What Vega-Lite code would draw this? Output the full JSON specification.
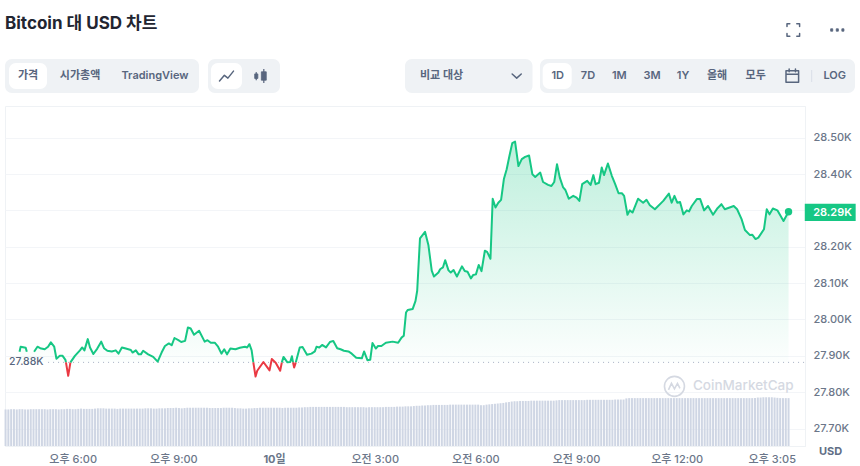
{
  "$schema": "https://vega.github.io/schema/vega-lite/v6.json",
  "background": "#ffffff",
  "padding": {"left": 4, "right": 0, "top": 0, "bottom": 0},
  "spacing": 5,
  "resolve": {"scale": {"color": "independent", "shape": "independent"}},
  "config": {
    "view": {"stroke": null},
    "font": "Inter, 'Noto Sans CJK KR', sans-serif"
  },
  "datasets": {
    "trays": [
      {"kind": "tray", "col": 0, "col2": 6, "row": 2, "row2": 8},
      {"kind": "pill", "col": 1, "col2": 3, "row": 3, "row2": 7},
      {"kind": "tray", "col": 7, "col2": 12, "row": 2, "row2": 8},
      {"kind": "pill", "col": 8, "col2": 10, "row": 3, "row2": 7},
      {"kind": "tray", "col": 13, "col2": 16, "row": 2, "row2": 8},
      {"kind": "tray", "col": 17, "col2": 32, "row": 2, "row2": 8},
      {"kind": "pill", "col": 18, "col2": 20, "row": 3, "row2": 7}
    ],
    "buttons": [
      {"label": "가격", "col": 2, "row": 5},
      {"label": "시가총액", "col": 4, "row": 5},
      {"label": "TradingView", "col": 5, "row": 5},
      {"label": "비교 대상", "col": 14, "row": 5},
      {"label": "1D", "col": 19, "row": 5},
      {"label": "7D", "col": 21, "row": 5},
      {"label": "1M", "col": 22, "row": 5},
      {"label": "3M", "col": 23, "row": 5},
      {"label": "1Y", "col": 24, "row": 5},
      {"label": "올해", "col": 25, "row": 5},
      {"label": "모두", "col": 26, "row": 5},
      {"label": "LOG", "col": 30, "row": 5}
    ],
    "icons": [
      {"icon": "line", "col": 9, "row": 5, "solid": false},
      {"icon": "candle", "col": 11, "row": 5, "solid": true},
      {"icon": "chevron", "col": 15, "row": 5, "solid": false},
      {"icon": "calendar", "col": 27, "row": 5, "solid": false},
      {"icon": "fullscreen", "col": 28, "row": 1, "solid": false},
      {"icon": "more", "col": 31, "row": 1, "solid": true}
    ],
    "volume": [
      {"t":"2023-04-09T16:00Z","vol":12.9},{"t":"2023-04-09T16:05Z","vol":12.9},{"t":"2023-04-09T16:10Z","vol":13.0},{"t":"2023-04-09T16:15Z","vol":13.0},{"t":"2023-04-09T16:20Z","vol":12.9},{"t":"2023-04-09T16:25Z","vol":13.0},{"t":"2023-04-09T16:30Z","vol":13.0},{"t":"2023-04-09T16:35Z","vol":12.9},{"t":"2023-04-09T16:40Z","vol":12.9},{"t":"2023-04-09T16:45Z","vol":13.0},{"t":"2023-04-09T16:50Z","vol":13.0},{"t":"2023-04-09T16:55Z","vol":13.0},
      {"t":"2023-04-09T17:00Z","vol":13.0},{"t":"2023-04-09T17:05Z","vol":13.0},{"t":"2023-04-09T17:10Z","vol":13.0},{"t":"2023-04-09T17:15Z","vol":12.9},{"t":"2023-04-09T17:20Z","vol":13.0},{"t":"2023-04-09T17:25Z","vol":13.0},{"t":"2023-04-09T17:30Z","vol":13.0},{"t":"2023-04-09T17:35Z","vol":12.9},{"t":"2023-04-09T17:40Z","vol":13.0},{"t":"2023-04-09T17:45Z","vol":13.0},{"t":"2023-04-09T17:50Z","vol":13.1},{"t":"2023-04-09T17:55Z","vol":13.1},
      {"t":"2023-04-09T18:00Z","vol":13.0},{"t":"2023-04-09T18:05Z","vol":13.0},{"t":"2023-04-09T18:10Z","vol":13.1},{"t":"2023-04-09T18:15Z","vol":13.2},{"t":"2023-04-09T18:20Z","vol":13.1},{"t":"2023-04-09T18:25Z","vol":13.1},{"t":"2023-04-09T18:30Z","vol":13.1},{"t":"2023-04-09T18:35Z","vol":13.1},{"t":"2023-04-09T18:40Z","vol":13.2},{"t":"2023-04-09T18:45Z","vol":13.3},{"t":"2023-04-09T18:50Z","vol":13.3},{"t":"2023-04-09T18:55Z","vol":13.3},
      {"t":"2023-04-09T19:00Z","vol":13.2},{"t":"2023-04-09T19:05Z","vol":13.2},{"t":"2023-04-09T19:10Z","vol":13.2},{"t":"2023-04-09T19:15Z","vol":13.2},{"t":"2023-04-09T19:20Z","vol":13.1},{"t":"2023-04-09T19:25Z","vol":13.2},{"t":"2023-04-09T19:30Z","vol":13.2},{"t":"2023-04-09T19:35Z","vol":13.2},{"t":"2023-04-09T19:40Z","vol":13.2},{"t":"2023-04-09T19:45Z","vol":13.2},{"t":"2023-04-09T19:50Z","vol":13.2},{"t":"2023-04-09T19:55Z","vol":13.2},
      {"t":"2023-04-09T20:00Z","vol":13.2},{"t":"2023-04-09T20:05Z","vol":13.2},{"t":"2023-04-09T20:10Z","vol":13.3},{"t":"2023-04-09T20:15Z","vol":13.3},{"t":"2023-04-09T20:20Z","vol":13.3},{"t":"2023-04-09T20:25Z","vol":13.2},{"t":"2023-04-09T20:30Z","vol":13.2},{"t":"2023-04-09T20:35Z","vol":13.3},{"t":"2023-04-09T20:40Z","vol":13.3},{"t":"2023-04-09T20:45Z","vol":13.3},{"t":"2023-04-09T20:50Z","vol":13.4},{"t":"2023-04-09T20:55Z","vol":13.4},
      {"t":"2023-04-09T21:00Z","vol":13.4},{"t":"2023-04-09T21:05Z","vol":13.5},{"t":"2023-04-09T21:10Z","vol":13.4},{"t":"2023-04-09T21:15Z","vol":13.3},{"t":"2023-04-09T21:20Z","vol":13.4},{"t":"2023-04-09T21:25Z","vol":13.5},{"t":"2023-04-09T21:30Z","vol":13.5},{"t":"2023-04-09T21:35Z","vol":13.5},{"t":"2023-04-09T21:40Z","vol":13.5},{"t":"2023-04-09T21:45Z","vol":13.5},{"t":"2023-04-09T21:50Z","vol":13.5},{"t":"2023-04-09T21:55Z","vol":13.5},
      {"t":"2023-04-09T22:00Z","vol":13.5},{"t":"2023-04-09T22:05Z","vol":13.4},{"t":"2023-04-09T22:10Z","vol":13.4},{"t":"2023-04-09T22:15Z","vol":13.4},{"t":"2023-04-09T22:20Z","vol":13.4},{"t":"2023-04-09T22:25Z","vol":13.4},{"t":"2023-04-09T22:30Z","vol":13.5},{"t":"2023-04-09T22:35Z","vol":13.5},{"t":"2023-04-09T22:40Z","vol":13.5},{"t":"2023-04-09T22:45Z","vol":13.5},{"t":"2023-04-09T22:50Z","vol":13.4},{"t":"2023-04-09T22:55Z","vol":13.3},
      {"t":"2023-04-09T23:00Z","vol":13.3},{"t":"2023-04-09T23:05Z","vol":13.2},{"t":"2023-04-09T23:10Z","vol":13.2},{"t":"2023-04-09T23:15Z","vol":13.3},{"t":"2023-04-09T23:20Z","vol":13.3},{"t":"2023-04-09T23:25Z","vol":13.4},{"t":"2023-04-09T23:30Z","vol":13.4},{"t":"2023-04-09T23:35Z","vol":13.5},{"t":"2023-04-09T23:40Z","vol":13.5},{"t":"2023-04-09T23:45Z","vol":13.5},{"t":"2023-04-09T23:50Z","vol":13.5},{"t":"2023-04-09T23:55Z","vol":13.5},
      {"t":"2023-04-10T00:00Z","vol":13.5},{"t":"2023-04-10T00:05Z","vol":13.5},{"t":"2023-04-10T00:10Z","vol":13.5},{"t":"2023-04-10T00:15Z","vol":13.4},{"t":"2023-04-10T00:20Z","vol":13.5},{"t":"2023-04-10T00:25Z","vol":13.5},{"t":"2023-04-10T00:30Z","vol":13.5},{"t":"2023-04-10T00:35Z","vol":13.5},{"t":"2023-04-10T00:40Z","vol":13.5},{"t":"2023-04-10T00:45Z","vol":13.6},{"t":"2023-04-10T00:50Z","vol":13.6},{"t":"2023-04-10T00:55Z","vol":13.7},
      {"t":"2023-04-10T01:00Z","vol":13.7},{"t":"2023-04-10T01:05Z","vol":13.8},{"t":"2023-04-10T01:10Z","vol":13.8},{"t":"2023-04-10T01:15Z","vol":13.8},{"t":"2023-04-10T01:20Z","vol":13.8},{"t":"2023-04-10T01:25Z","vol":13.8},{"t":"2023-04-10T01:30Z","vol":13.8},{"t":"2023-04-10T01:35Z","vol":13.8},{"t":"2023-04-10T01:40Z","vol":13.8},{"t":"2023-04-10T01:45Z","vol":13.8},{"t":"2023-04-10T01:50Z","vol":13.8},{"t":"2023-04-10T01:55Z","vol":13.8},
      {"t":"2023-04-10T02:00Z","vol":13.8},{"t":"2023-04-10T02:05Z","vol":13.8},{"t":"2023-04-10T02:10Z","vol":13.7},{"t":"2023-04-10T02:15Z","vol":13.7},{"t":"2023-04-10T02:20Z","vol":13.7},{"t":"2023-04-10T02:25Z","vol":13.7},{"t":"2023-04-10T02:30Z","vol":13.7},{"t":"2023-04-10T02:35Z","vol":13.7},{"t":"2023-04-10T02:40Z","vol":13.7},{"t":"2023-04-10T02:45Z","vol":13.6},{"t":"2023-04-10T02:50Z","vol":13.7},{"t":"2023-04-10T02:55Z","vol":13.7},
      {"t":"2023-04-10T03:00Z","vol":13.7},{"t":"2023-04-10T03:05Z","vol":13.7},{"t":"2023-04-10T03:10Z","vol":13.7},{"t":"2023-04-10T03:15Z","vol":13.7},{"t":"2023-04-10T03:20Z","vol":13.8},{"t":"2023-04-10T03:25Z","vol":13.8},{"t":"2023-04-10T03:30Z","vol":13.8},{"t":"2023-04-10T03:35Z","vol":13.8},{"t":"2023-04-10T03:40Z","vol":13.9},{"t":"2023-04-10T03:45Z","vol":13.9},{"t":"2023-04-10T03:50Z","vol":13.9},{"t":"2023-04-10T03:55Z","vol":14.0},
      {"t":"2023-04-10T04:00Z","vol":14.0},{"t":"2023-04-10T04:05Z","vol":14.0},{"t":"2023-04-10T04:10Z","vol":14.1},{"t":"2023-04-10T04:15Z","vol":14.2},{"t":"2023-04-10T04:20Z","vol":14.2},{"t":"2023-04-10T04:25Z","vol":14.3},{"t":"2023-04-10T04:30Z","vol":14.3},{"t":"2023-04-10T04:35Z","vol":14.4},{"t":"2023-04-10T04:40Z","vol":14.4},{"t":"2023-04-10T04:45Z","vol":14.5},{"t":"2023-04-10T04:50Z","vol":14.5},{"t":"2023-04-10T04:55Z","vol":14.5},
      {"t":"2023-04-10T05:00Z","vol":14.5},{"t":"2023-04-10T05:05Z","vol":14.5},{"t":"2023-04-10T05:10Z","vol":14.5},{"t":"2023-04-10T05:15Z","vol":14.6},{"t":"2023-04-10T05:20Z","vol":14.6},{"t":"2023-04-10T05:25Z","vol":14.6},{"t":"2023-04-10T05:30Z","vol":14.6},{"t":"2023-04-10T05:35Z","vol":14.6},{"t":"2023-04-10T05:40Z","vol":14.6},{"t":"2023-04-10T05:45Z","vol":14.6},{"t":"2023-04-10T05:50Z","vol":14.6},{"t":"2023-04-10T05:55Z","vol":14.6},
      {"t":"2023-04-10T06:00Z","vol":14.6},{"t":"2023-04-10T06:05Z","vol":14.6},{"t":"2023-04-10T06:10Z","vol":14.4},{"t":"2023-04-10T06:15Z","vol":14.4},{"t":"2023-04-10T06:20Z","vol":14.6},{"t":"2023-04-10T06:25Z","vol":14.7},{"t":"2023-04-10T06:30Z","vol":14.8},{"t":"2023-04-10T06:35Z","vol":14.9},{"t":"2023-04-10T06:40Z","vol":15.0},{"t":"2023-04-10T06:45Z","vol":15.1},{"t":"2023-04-10T06:50Z","vol":15.2},{"t":"2023-04-10T06:55Z","vol":15.4},
      {"t":"2023-04-10T07:00Z","vol":15.5},{"t":"2023-04-10T07:05Z","vol":15.7},{"t":"2023-04-10T07:10Z","vol":15.8},{"t":"2023-04-10T07:15Z","vol":15.8},{"t":"2023-04-10T07:20Z","vol":15.9},{"t":"2023-04-10T07:25Z","vol":15.9},{"t":"2023-04-10T07:30Z","vol":15.9},{"t":"2023-04-10T07:35Z","vol":15.9},{"t":"2023-04-10T07:40Z","vol":16.0},{"t":"2023-04-10T07:45Z","vol":16.0},{"t":"2023-04-10T07:50Z","vol":16.0},{"t":"2023-04-10T07:55Z","vol":16.0},
      {"t":"2023-04-10T08:00Z","vol":16.0},{"t":"2023-04-10T08:05Z","vol":16.0},{"t":"2023-04-10T08:10Z","vol":16.0},{"t":"2023-04-10T08:15Z","vol":16.0},{"t":"2023-04-10T08:20Z","vol":16.0},{"t":"2023-04-10T08:25Z","vol":16.1},{"t":"2023-04-10T08:30Z","vol":16.2},{"t":"2023-04-10T08:35Z","vol":16.2},{"t":"2023-04-10T08:40Z","vol":16.2},{"t":"2023-04-10T08:45Z","vol":16.2},{"t":"2023-04-10T08:50Z","vol":16.2},{"t":"2023-04-10T08:55Z","vol":16.2},
      {"t":"2023-04-10T09:00Z","vol":16.2},{"t":"2023-04-10T09:05Z","vol":16.2},{"t":"2023-04-10T09:10Z","vol":16.2},{"t":"2023-04-10T09:15Z","vol":16.2},{"t":"2023-04-10T09:20Z","vol":16.3},{"t":"2023-04-10T09:25Z","vol":16.3},{"t":"2023-04-10T09:30Z","vol":16.3},{"t":"2023-04-10T09:35Z","vol":16.3},{"t":"2023-04-10T09:40Z","vol":16.3},{"t":"2023-04-10T09:45Z","vol":16.3},{"t":"2023-04-10T09:50Z","vol":16.3},{"t":"2023-04-10T09:55Z","vol":16.3},
      {"t":"2023-04-10T10:00Z","vol":16.3},{"t":"2023-04-10T10:05Z","vol":16.3},{"t":"2023-04-10T10:10Z","vol":16.4},{"t":"2023-04-10T10:15Z","vol":16.4},{"t":"2023-04-10T10:20Z","vol":16.4},{"t":"2023-04-10T10:25Z","vol":16.4},{"t":"2023-04-10T10:30Z","vol":16.8},{"t":"2023-04-10T10:35Z","vol":16.9},{"t":"2023-04-10T10:40Z","vol":16.9},{"t":"2023-04-10T10:45Z","vol":16.9},{"t":"2023-04-10T10:50Z","vol":16.9},{"t":"2023-04-10T10:55Z","vol":16.9},
      {"t":"2023-04-10T11:00Z","vol":16.9},{"t":"2023-04-10T11:05Z","vol":16.9},{"t":"2023-04-10T11:10Z","vol":16.9},{"t":"2023-04-10T11:15Z","vol":16.9},{"t":"2023-04-10T11:20Z","vol":16.9},{"t":"2023-04-10T11:25Z","vol":16.9},{"t":"2023-04-10T11:30Z","vol":16.9},{"t":"2023-04-10T11:35Z","vol":16.9},{"t":"2023-04-10T11:40Z","vol":16.9},{"t":"2023-04-10T11:45Z","vol":16.9},{"t":"2023-04-10T11:50Z","vol":16.9},{"t":"2023-04-10T11:55Z","vol":16.9},
      {"t":"2023-04-10T12:00Z","vol":16.9},{"t":"2023-04-10T12:05Z","vol":16.9},{"t":"2023-04-10T12:10Z","vol":16.9},{"t":"2023-04-10T12:15Z","vol":16.9},{"t":"2023-04-10T12:20Z","vol":16.9},{"t":"2023-04-10T12:25Z","vol":16.9},{"t":"2023-04-10T12:30Z","vol":16.9},{"t":"2023-04-10T12:35Z","vol":16.9},{"t":"2023-04-10T12:40Z","vol":16.9},{"t":"2023-04-10T12:45Z","vol":16.9},{"t":"2023-04-10T12:50Z","vol":16.9},{"t":"2023-04-10T12:55Z","vol":16.9},
      {"t":"2023-04-10T13:00Z","vol":16.9},{"t":"2023-04-10T13:05Z","vol":16.9},{"t":"2023-04-10T13:10Z","vol":16.9},{"t":"2023-04-10T13:15Z","vol":16.9},{"t":"2023-04-10T13:20Z","vol":16.9},{"t":"2023-04-10T13:25Z","vol":16.9},{"t":"2023-04-10T13:30Z","vol":16.9},{"t":"2023-04-10T13:35Z","vol":16.9},{"t":"2023-04-10T13:40Z","vol":16.9},{"t":"2023-04-10T13:45Z","vol":16.9},{"t":"2023-04-10T13:50Z","vol":16.9},{"t":"2023-04-10T13:55Z","vol":16.9},
      {"t":"2023-04-10T14:00Z","vol":16.9},{"t":"2023-04-10T14:05Z","vol":16.9},{"t":"2023-04-10T14:10Z","vol":16.9},{"t":"2023-04-10T14:15Z","vol":16.9},{"t":"2023-04-10T14:20Z","vol":16.9},{"t":"2023-04-10T14:25Z","vol":17.1},{"t":"2023-04-10T14:30Z","vol":17.1},{"t":"2023-04-10T14:35Z","vol":17.2},{"t":"2023-04-10T14:40Z","vol":17.2},{"t":"2023-04-10T14:45Z","vol":17.2},{"t":"2023-04-10T14:50Z","vol":17.2},{"t":"2023-04-10T14:55Z","vol":17.1},
      {"t":"2023-04-10T15:00Z","vol":17.0},{"t":"2023-04-10T15:05Z","vol":16.9},{"t":"2023-04-10T15:10Z","vol":16.9},{"t":"2023-04-10T15:15Z","vol":16.9},{"t":"2023-04-10T15:20Z","vol":16.9}
    ],
    "price": [
      {"t":"2023-04-09T16:25Z","price":27911,"seg":1,"dir":"up"},{"t":"2023-04-09T16:27Z","price":27925,"seg":1,"dir":"up"},{"t":"2023-04-09T16:36Z","price":27922,"seg":1,"dir":"up"},{"t":"2023-04-09T16:38Z","price":27911,"seg":1,"dir":"up"},
      {"t":"2023-04-09T16:51Z","price":27911,"seg":2,"dir":"up"},{"t":"2023-04-09T16:57Z","price":27925,"seg":2,"dir":"up"},{"t":"2023-04-09T17:02Z","price":27921,"seg":2,"dir":"up"},{"t":"2023-04-09T17:10Z","price":27918,"seg":2,"dir":"up"},{"t":"2023-04-09T17:16Z","price":27925,"seg":2,"dir":"up"},{"t":"2023-04-09T17:21Z","price":27937,"seg":2,"dir":"up"},{"t":"2023-04-09T17:27Z","price":27925,"seg":2,"dir":"up"},{"t":"2023-04-09T17:31Z","price":27892,"seg":2,"dir":"up"},{"t":"2023-04-09T17:37Z","price":27900,"seg":2,"dir":"up"},{"t":"2023-04-09T17:42Z","price":27900,"seg":2,"dir":"up"},{"t":"2023-04-09T17:47Z","price":27889,"seg":2,"dir":"up"},{"t":"2023-04-09T17:48Z","price":27882,"seg":2,"dir":"up"},
      {"t":"2023-04-09T17:48Z","price":27882,"seg":3,"dir":"down"},{"t":"2023-04-09T17:52Z","price":27845,"seg":3,"dir":"down"},{"t":"2023-04-09T17:56Z","price":27882,"seg":3,"dir":"down"},
      {"t":"2023-04-09T17:56Z","price":27882,"seg":4,"dir":"up"},{"t":"2023-04-09T18:04Z","price":27900,"seg":4,"dir":"up"},{"t":"2023-04-09T18:13Z","price":27915,"seg":4,"dir":"up"},{"t":"2023-04-09T18:17Z","price":27923,"seg":4,"dir":"up"},{"t":"2023-04-09T18:21Z","price":27915,"seg":4,"dir":"up"},{"t":"2023-04-09T18:27Z","price":27946,"seg":4,"dir":"up"},{"t":"2023-04-09T18:31Z","price":27923,"seg":4,"dir":"up"},{"t":"2023-04-09T18:37Z","price":27905,"seg":4,"dir":"up"},{"t":"2023-04-09T18:44Z","price":27920,"seg":4,"dir":"up"},{"t":"2023-04-09T18:51Z","price":27939,"seg":4,"dir":"up"},{"t":"2023-04-09T18:56Z","price":27921,"seg":4,"dir":"up"},{"t":"2023-04-09T19:02Z","price":27914,"seg":4,"dir":"up"},{"t":"2023-04-09T19:10Z","price":27912,"seg":4,"dir":"up"},{"t":"2023-04-09T19:17Z","price":27915,"seg":4,"dir":"up"},{"t":"2023-04-09T19:22Z","price":27906,"seg":4,"dir":"up"},{"t":"2023-04-09T19:28Z","price":27923,"seg":4,"dir":"up"},{"t":"2023-04-09T19:35Z","price":27920,"seg":4,"dir":"up"},{"t":"2023-04-09T19:44Z","price":27916,"seg":4,"dir":"up"},{"t":"2023-04-09T19:47Z","price":27909,"seg":4,"dir":"up"},{"t":"2023-04-09T19:53Z","price":27915,"seg":4,"dir":"up"},{"t":"2023-04-09T19:58Z","price":27904,"seg":4,"dir":"up"},{"t":"2023-04-09T20:02Z","price":27904,"seg":4,"dir":"up"},{"t":"2023-04-09T20:06Z","price":27914,"seg":4,"dir":"up"},{"t":"2023-04-09T20:15Z","price":27904,"seg":4,"dir":"up"},{"t":"2023-04-09T20:24Z","price":27897,"seg":4,"dir":"up"},{"t":"2023-04-09T20:32Z","price":27884,"seg":4,"dir":"up"},{"t":"2023-04-09T20:39Z","price":27909,"seg":4,"dir":"up"},{"t":"2023-04-09T20:45Z","price":27927,"seg":4,"dir":"up"},{"t":"2023-04-09T20:52Z","price":27934,"seg":4,"dir":"up"},{"t":"2023-04-09T20:57Z","price":27929,"seg":4,"dir":"up"},{"t":"2023-04-09T21:02Z","price":27949,"seg":4,"dir":"up"},{"t":"2023-04-09T21:09Z","price":27943,"seg":4,"dir":"up"},{"t":"2023-04-09T21:14Z","price":27938,"seg":4,"dir":"up"},{"t":"2023-04-09T21:21Z","price":27941,"seg":4,"dir":"up"},{"t":"2023-04-09T21:26Z","price":27978,"seg":4,"dir":"up"},{"t":"2023-04-09T21:31Z","price":27975,"seg":4,"dir":"up"},{"t":"2023-04-09T21:37Z","price":27958,"seg":4,"dir":"up"},{"t":"2023-04-09T21:46Z","price":27969,"seg":4,"dir":"up"},{"t":"2023-04-09T21:56Z","price":27939,"seg":4,"dir":"up"},{"t":"2023-04-09T22:01Z","price":27943,"seg":4,"dir":"up"},{"t":"2023-04-09T22:07Z","price":27936,"seg":4,"dir":"up"},{"t":"2023-04-09T22:14Z","price":27936,"seg":4,"dir":"up"},{"t":"2023-04-09T22:20Z","price":27925,"seg":4,"dir":"up"},{"t":"2023-04-09T22:26Z","price":27906,"seg":4,"dir":"up"},{"t":"2023-04-09T22:31Z","price":27918,"seg":4,"dir":"up"},{"t":"2023-04-09T22:36Z","price":27904,"seg":4,"dir":"up"},{"t":"2023-04-09T22:42Z","price":27920,"seg":4,"dir":"up"},{"t":"2023-04-09T22:51Z","price":27918,"seg":4,"dir":"up"},{"t":"2023-04-09T22:59Z","price":27922,"seg":4,"dir":"up"},{"t":"2023-04-09T23:08Z","price":27925,"seg":4,"dir":"up"},{"t":"2023-04-09T23:12Z","price":27923,"seg":4,"dir":"up"},{"t":"2023-04-09T23:16Z","price":27932,"seg":4,"dir":"up"},{"t":"2023-04-09T23:20Z","price":27915,"seg":4,"dir":"up"},{"t":"2023-04-09T23:23Z","price":27882,"seg":4,"dir":"up"},
      {"t":"2023-04-09T23:23Z","price":27882,"seg":5,"dir":"down"},{"t":"2023-04-09T23:27Z","price":27843,"seg":5,"dir":"down"},{"t":"2023-04-09T23:30Z","price":27859,"seg":5,"dir":"down"},{"t":"2023-04-09T23:41Z","price":27883,"seg":5,"dir":"down"},{"t":"2023-04-09T23:52Z","price":27860,"seg":5,"dir":"down"},{"t":"2023-04-09T23:56Z","price":27891,"seg":5,"dir":"down"},{"t":"2023-04-10T00:03Z","price":27881,"seg":5,"dir":"down"},{"t":"2023-04-10T00:11Z","price":27859,"seg":5,"dir":"down"},{"t":"2023-04-10T00:14Z","price":27882,"seg":5,"dir":"down"},
      {"t":"2023-04-10T00:14Z","price":27882,"seg":6,"dir":"up"},{"t":"2023-04-10T00:17Z","price":27897,"seg":6,"dir":"up"},{"t":"2023-04-10T00:24Z","price":27882,"seg":6,"dir":"up"},{"t":"2023-04-10T00:29Z","price":27883,"seg":6,"dir":"up"},{"t":"2023-04-10T00:32Z","price":27899,"seg":6,"dir":"up"},{"t":"2023-04-10T00:34Z","price":27882,"seg":6,"dir":"up"},
      {"t":"2023-04-10T00:34Z","price":27882,"seg":7,"dir":"down"},{"t":"2023-04-10T00:36Z","price":27868,"seg":7,"dir":"down"},{"t":"2023-04-10T00:39Z","price":27882,"seg":7,"dir":"down"},
      {"t":"2023-04-10T00:39Z","price":27882,"seg":8,"dir":"up"},{"t":"2023-04-10T00:46Z","price":27923,"seg":8,"dir":"up"},{"t":"2023-04-10T00:51Z","price":27924,"seg":8,"dir":"up"},{"t":"2023-04-10T00:59Z","price":27903,"seg":8,"dir":"up"},{"t":"2023-04-10T01:07Z","price":27906,"seg":8,"dir":"up"},{"t":"2023-04-10T01:13Z","price":27912,"seg":8,"dir":"up"},{"t":"2023-04-10T01:16Z","price":27925,"seg":8,"dir":"up"},{"t":"2023-04-10T01:21Z","price":27923,"seg":8,"dir":"up"},{"t":"2023-04-10T01:26Z","price":27930,"seg":8,"dir":"up"},{"t":"2023-04-10T01:33Z","price":27923,"seg":8,"dir":"up"},{"t":"2023-04-10T01:40Z","price":27938,"seg":8,"dir":"up"},{"t":"2023-04-10T01:46Z","price":27941,"seg":8,"dir":"up"},{"t":"2023-04-10T01:53Z","price":27921,"seg":8,"dir":"up"},{"t":"2023-04-10T01:59Z","price":27918,"seg":8,"dir":"up"},{"t":"2023-04-10T02:05Z","price":27914,"seg":8,"dir":"up"},{"t":"2023-04-10T02:13Z","price":27912,"seg":8,"dir":"up"},{"t":"2023-04-10T02:19Z","price":27906,"seg":8,"dir":"up"},{"t":"2023-04-10T02:27Z","price":27895,"seg":8,"dir":"up"},{"t":"2023-04-10T02:37Z","price":27893,"seg":8,"dir":"up"},{"t":"2023-04-10T02:41Z","price":27912,"seg":8,"dir":"up"},{"t":"2023-04-10T02:47Z","price":27888,"seg":8,"dir":"up"},{"t":"2023-04-10T02:52Z","price":27889,"seg":8,"dir":"up"},{"t":"2023-04-10T02:56Z","price":27935,"seg":8,"dir":"up"},{"t":"2023-04-10T03:02Z","price":27920,"seg":8,"dir":"up"},{"t":"2023-04-10T03:06Z","price":27927,"seg":8,"dir":"up"},{"t":"2023-04-10T03:12Z","price":27927,"seg":8,"dir":"up"},{"t":"2023-04-10T03:20Z","price":27936,"seg":8,"dir":"up"},{"t":"2023-04-10T03:32Z","price":27939,"seg":8,"dir":"up"},{"t":"2023-04-10T03:42Z","price":27936,"seg":8,"dir":"up"},{"t":"2023-04-10T03:48Z","price":27950,"seg":8,"dir":"up"},{"t":"2023-04-10T03:52Z","price":27955,"seg":8,"dir":"up"},{"t":"2023-04-10T03:56Z","price":28019,"seg":8,"dir":"up"},{"t":"2023-04-10T03:59Z","price":28026,"seg":8,"dir":"up"},{"t":"2023-04-10T04:08Z","price":28029,"seg":8,"dir":"up"},{"t":"2023-04-10T04:13Z","price":28051,"seg":8,"dir":"up"},{"t":"2023-04-10T04:16Z","price":28079,"seg":8,"dir":"up"},{"t":"2023-04-10T04:21Z","price":28223,"seg":8,"dir":"up"},{"t":"2023-04-10T04:30Z","price":28241,"seg":8,"dir":"up"},{"t":"2023-04-10T04:36Z","price":28205,"seg":8,"dir":"up"},{"t":"2023-04-10T04:42Z","price":28134,"seg":8,"dir":"up"},{"t":"2023-04-10T04:46Z","price":28118,"seg":8,"dir":"up"},{"t":"2023-04-10T04:54Z","price":28129,"seg":8,"dir":"up"},{"t":"2023-04-10T04:57Z","price":28138,"seg":8,"dir":"up"},{"t":"2023-04-10T05:02Z","price":28143,"seg":8,"dir":"up"},{"t":"2023-04-10T05:06Z","price":28163,"seg":8,"dir":"up"},{"t":"2023-04-10T05:12Z","price":28135,"seg":8,"dir":"up"},{"t":"2023-04-10T05:16Z","price":28129,"seg":8,"dir":"up"},{"t":"2023-04-10T05:21Z","price":28136,"seg":8,"dir":"up"},{"t":"2023-04-10T05:27Z","price":28118,"seg":8,"dir":"up"},{"t":"2023-04-10T05:36Z","price":28146,"seg":8,"dir":"up"},{"t":"2023-04-10T05:41Z","price":28133,"seg":8,"dir":"up"},{"t":"2023-04-10T05:46Z","price":28131,"seg":8,"dir":"up"},{"t":"2023-04-10T05:52Z","price":28113,"seg":8,"dir":"up"},{"t":"2023-04-10T05:56Z","price":28122,"seg":8,"dir":"up"},{"t":"2023-04-10T06:01Z","price":28124,"seg":8,"dir":"up"},{"t":"2023-04-10T06:06Z","price":28150,"seg":8,"dir":"up"},{"t":"2023-04-10T06:11Z","price":28133,"seg":8,"dir":"up"},{"t":"2023-04-10T06:17Z","price":28189,"seg":8,"dir":"up"},{"t":"2023-04-10T06:21Z","price":28186,"seg":8,"dir":"up"},{"t":"2023-04-10T06:27Z","price":28167,"seg":8,"dir":"up"},{"t":"2023-04-10T06:31Z","price":28332,"seg":8,"dir":"up"},{"t":"2023-04-10T06:36Z","price":28308,"seg":8,"dir":"up"},{"t":"2023-04-10T06:41Z","price":28321,"seg":8,"dir":"up"},{"t":"2023-04-10T06:46Z","price":28329,"seg":8,"dir":"up"},{"t":"2023-04-10T06:51Z","price":28386,"seg":8,"dir":"up"},{"t":"2023-04-10T06:56Z","price":28413,"seg":8,"dir":"up"},{"t":"2023-04-10T07:01Z","price":28450,"seg":8,"dir":"up"},{"t":"2023-04-10T07:06Z","price":28485,"seg":8,"dir":"up"},{"t":"2023-04-10T07:11Z","price":28489,"seg":8,"dir":"up"},{"t":"2023-04-10T07:17Z","price":28422,"seg":8,"dir":"up"},{"t":"2023-04-10T07:23Z","price":28441,"seg":8,"dir":"up"},{"t":"2023-04-10T07:29Z","price":28447,"seg":8,"dir":"up"},{"t":"2023-04-10T07:36Z","price":28451,"seg":8,"dir":"up"},{"t":"2023-04-10T07:42Z","price":28399,"seg":8,"dir":"up"},{"t":"2023-04-10T07:47Z","price":28392,"seg":8,"dir":"up"},{"t":"2023-04-10T07:56Z","price":28404,"seg":8,"dir":"up"},{"t":"2023-04-10T08:01Z","price":28378,"seg":8,"dir":"up"},{"t":"2023-04-10T08:10Z","price":28370,"seg":8,"dir":"up"},{"t":"2023-04-10T08:16Z","price":28367,"seg":8,"dir":"up"},{"t":"2023-04-10T08:21Z","price":28378,"seg":8,"dir":"up"},{"t":"2023-04-10T08:26Z","price":28427,"seg":8,"dir":"up"},{"t":"2023-04-10T08:31Z","price":28390,"seg":8,"dir":"up"},{"t":"2023-04-10T08:37Z","price":28363,"seg":8,"dir":"up"},{"t":"2023-04-10T08:41Z","price":28356,"seg":8,"dir":"up"},{"t":"2023-04-10T08:47Z","price":28332,"seg":8,"dir":"up"},{"t":"2023-04-10T08:55Z","price":28340,"seg":8,"dir":"up"},{"t":"2023-04-10T09:01Z","price":28335,"seg":8,"dir":"up"},{"t":"2023-04-10T09:06Z","price":28326,"seg":8,"dir":"up"},{"t":"2023-04-10T09:11Z","price":28372,"seg":8,"dir":"up"},{"t":"2023-04-10T09:20Z","price":28381,"seg":8,"dir":"up"},{"t":"2023-04-10T09:26Z","price":28370,"seg":8,"dir":"up"},{"t":"2023-04-10T09:31Z","price":28397,"seg":8,"dir":"up"},{"t":"2023-04-10T09:35Z","price":28372,"seg":8,"dir":"up"},{"t":"2023-04-10T09:41Z","price":28376,"seg":8,"dir":"up"},{"t":"2023-04-10T09:46Z","price":28418,"seg":8,"dir":"up"},{"t":"2023-04-10T09:50Z","price":28397,"seg":8,"dir":"up"},{"t":"2023-04-10T09:57Z","price":28429,"seg":8,"dir":"up"},{"t":"2023-04-10T10:04Z","price":28395,"seg":8,"dir":"up"},{"t":"2023-04-10T10:10Z","price":28372,"seg":8,"dir":"up"},{"t":"2023-04-10T10:16Z","price":28347,"seg":8,"dir":"up"},{"t":"2023-04-10T10:22Z","price":28347,"seg":8,"dir":"up"},{"t":"2023-04-10T10:26Z","price":28340,"seg":8,"dir":"up"},{"t":"2023-04-10T10:32Z","price":28288,"seg":8,"dir":"up"},{"t":"2023-04-10T10:36Z","price":28300,"seg":8,"dir":"up"},{"t":"2023-04-10T10:41Z","price":28294,"seg":8,"dir":"up"},{"t":"2023-04-10T10:51Z","price":28332,"seg":8,"dir":"up"},{"t":"2023-04-10T11:00Z","price":28321,"seg":8,"dir":"up"},{"t":"2023-04-10T11:06Z","price":28329,"seg":8,"dir":"up"},{"t":"2023-04-10T11:12Z","price":28314,"seg":8,"dir":"up"},{"t":"2023-04-10T11:21Z","price":28303,"seg":8,"dir":"up"},{"t":"2023-04-10T11:36Z","price":28326,"seg":8,"dir":"up"},{"t":"2023-04-10T11:46Z","price":28346,"seg":8,"dir":"up"},{"t":"2023-04-10T11:51Z","price":28321,"seg":8,"dir":"up"},{"t":"2023-04-10T11:56Z","price":28340,"seg":8,"dir":"up"},{"t":"2023-04-10T12:01Z","price":28321,"seg":8,"dir":"up"},{"t":"2023-04-10T12:06Z","price":28323,"seg":8,"dir":"up"},{"t":"2023-04-10T12:12Z","price":28289,"seg":8,"dir":"up"},{"t":"2023-04-10T12:18Z","price":28300,"seg":8,"dir":"up"},{"t":"2023-04-10T12:22Z","price":28297,"seg":8,"dir":"up"},{"t":"2023-04-10T12:27Z","price":28312,"seg":8,"dir":"up"},{"t":"2023-04-10T12:36Z","price":28331,"seg":8,"dir":"up"},{"t":"2023-04-10T12:42Z","price":28331,"seg":8,"dir":"up"},{"t":"2023-04-10T12:49Z","price":28300,"seg":8,"dir":"up"},{"t":"2023-04-10T12:56Z","price":28312,"seg":8,"dir":"up"},{"t":"2023-04-10T13:05Z","price":28288,"seg":8,"dir":"up"},{"t":"2023-04-10T13:13Z","price":28306,"seg":8,"dir":"up"},{"t":"2023-04-10T13:20Z","price":28317,"seg":8,"dir":"up"},{"t":"2023-04-10T13:26Z","price":28303,"seg":8,"dir":"up"},{"t":"2023-04-10T13:42Z","price":28312,"seg":8,"dir":"up"},{"t":"2023-04-10T13:48Z","price":28303,"seg":8,"dir":"up"},{"t":"2023-04-10T13:56Z","price":28276,"seg":8,"dir":"up"},{"t":"2023-04-10T14:02Z","price":28246,"seg":8,"dir":"up"},{"t":"2023-04-10T14:11Z","price":28232,"seg":8,"dir":"up"},{"t":"2023-04-10T14:15Z","price":28233,"seg":8,"dir":"up"},{"t":"2023-04-10T14:21Z","price":28221,"seg":8,"dir":"up"},{"t":"2023-04-10T14:26Z","price":28225,"seg":8,"dir":"up"},{"t":"2023-04-10T14:36Z","price":28248,"seg":8,"dir":"up"},{"t":"2023-04-10T14:41Z","price":28303,"seg":8,"dir":"up"},{"t":"2023-04-10T14:46Z","price":28289,"seg":8,"dir":"up"},{"t":"2023-04-10T14:52Z","price":28305,"seg":8,"dir":"up"},{"t":"2023-04-10T15:00Z","price":28300,"seg":8,"dir":"up"},{"t":"2023-04-10T15:11Z","price":28271,"seg":8,"dir":"up"},{"t":"2023-04-10T15:20Z","price":28296,"seg":8,"dir":"up"}
    ],
    "last": [{"t": "2023-04-10T15:20Z", "price": 28296}],
    "baseline": [{"t": "2023-04-09T17:16Z", "t2": "2023-04-10T15:49Z", "price": 27882, "label": "27.88K", "labelAt": "2023-04-09T16:37Z"}],
    "badge": [{"t": "2023-04-10T15:49Z", "t2": "2023-04-10T17:20Z", "hi": 28318, "lo": 28271, "mid": 28294, "label": "28.29K", "labelAt": "2023-04-10T16:04Z"}],
    "watermark": [{"t": "2023-04-10T11:56Z", "labelAt": "2023-04-10T12:29Z", "price": 27816, "label": "CoinMarketCap"}]
  },
  "vconcat": [
    {
      "width": 850,
      "height": 100,
      "encoding": {
        "x": {"field": "col", "type": "quantitative", "axis": null,
          "scale": {"nice": false, "zero": false,
            "domain": [0,1,2,3,4,5,6,7,8,9,10,11,12,13,14,15,16,17,18,19,20,21,22,23,24,25,26,27,28,29,30,31,32],
            "range": [0,4,23,42,75,150,194,203,206,221.5,237,256,275,400,436.5,511.7,527.5,535,537.7,552.7,566.7,583,614.3,647,678,712,750.7,787.3,788.3,806.7,829.7,832.3,850]}},
        "y": {"field": "row", "type": "quantitative", "axis": null,
          "scale": {"nice": false, "zero": false,
            "domain": [0,1,2,3,4,5,6,7,8],
            "range": [24,30,59,63,70,76,82,89,93]}}
      },
      "layer": [
        {
          "data": {"name": "trays"},
          "mark": {"type": "rect", "cornerRadius": 7},
          "encoding": {
            "x2": {"field": "col2"},
            "y2": {"field": "row2"},
            "color": {"field": "kind", "type": "nominal", "legend": null,
              "scale": {"domain": ["tray", "pill"], "range": ["#eff2f5", "#ffffff"]}}
          }
        },
        {
          "data": {"values": [{"col": 29, "row": 4, "row2": 6}]},
          "mark": {"type": "rule", "color": "#d9dee8", "strokeWidth": 1},
          "encoding": {"y2": {"field": "row2"}}
        },
        {
          "data": {"values": [{"label": "Bitcoin 대 USD 차트", "col": 0, "row": 0}]},
          "mark": {"type": "text", "align": "left", "baseline": "middle", "fontSize": 17, "fontWeight": 700, "color": "#222531"},
          "encoding": {"text": {"field": "label"}}
        },
        {
          "data": {"name": "buttons"},
          "mark": {"type": "text", "align": "center", "baseline": "middle", "fontSize": 11, "fontWeight": 600, "color": "#58667e"},
          "encoding": {"text": {"field": "label"}}
        },
        {
          "data": {"name": "icons"},
          "transform": [{"filter": "!datum.solid"}],
          "mark": {"type": "point", "filled": false, "size": 196, "opacity": 1, "strokeWidth": 1.5, "strokeCap": "round", "strokeJoin": "round", "color": "#58667e"},
          "encoding": {
            "shape": {"field": "icon", "type": "nominal", "legend": null,
              "scale": {
                "domain": ["line", "candle", "chevron", "calendar", "fullscreen", "more"],
                "range": [
                  "M-1,.7L-.3,-.1L.2,.3L1,-.7",
                  "M-.9,-.3H-.45V.35H-.9ZM-.68,-.55V.6ZM.05,-.6H.75V.6H.05ZM.4,-1V1Z",
                  "M-.65,-.28L0,.3L.65,-.28",
                  "M-.9,-.75H.9V.9H-.9ZM-.9,-.25H.9M-.45,-1V-.6M.45,-1V-.6",
                  "M-.9,-.5V-.9H-.5M.5,-.9H.9V-.5M.9,.5V.9H.5M-.5,.9H-.9V.5",
                  "M-.95,-.17H-.65V.17H-.95ZM-.15,-.17H.15V.17H-.15ZM.65,-.17H.95V.17H.65Z"
                ]
              }}
          }
        },
        {
          "data": {"name": "icons"},
          "transform": [{"filter": "datum.solid"}],
          "mark": {"type": "point", "filled": true, "size": 196, "opacity": 1, "stroke": "#58667e", "strokeWidth": 0.8, "color": "#58667e"},
          "encoding": {
            "shape": {"field": "icon", "type": "nominal", "legend": null,
              "scale": {
                "domain": ["line", "candle", "chevron", "calendar", "fullscreen", "more"],
                "range": [
                  "M-1,.7L-.3,-.1L.2,.3L1,-.7",
                  "M-.9,-.3H-.45V.35H-.9ZM-.68,-.55V.6ZM.05,-.6H.75V.6H.05ZM.4,-1V1Z",
                  "M-.65,-.28L0,.3L.65,-.28",
                  "M-.9,-.75H.9V.9H-.9ZM-.9,-.25H.9M-.45,-1V-.6M.45,-1V-.6",
                  "M-.9,-.5V-.9H-.5M.5,-.9H.9V-.5M.9,.5V.9H.5M-.5,.9H-.9V.5",
                  "M-.95,-.17H-.65V.17H-.95ZM-.15,-.17H.15V.17H-.15ZM.65,-.17H.95V.17H.65Z"
                ]
              }}
          }
        }
      ]
    },
    {
      "width": 800,
      "height": 340,
      "view": {"stroke": "#eff2f5"},
      "resolve": {"scale": {"y": "independent"}, "axis": {"y": "independent"}},
      "encoding": {
        "x": {"field": "t", "type": "temporal",
          "scale": {"type": "utc", "nice": false, "padding": 0, "domain": ["2023-04-09T15:59:00Z", "2023-04-10T15:49:24Z"]},
          "axis": {
            "title": null, "grid": false, "ticks": false, "domainColor": "#eff2f5",
            "labelFontSize": 11, "labelFontWeight": {"condition": {"test": "utchours(datum.value) == 0", "value": 700}, "value": 500},
            "labelColor": "#6b7689", "labelPadding": 7, "labelOverlap": false, "labelFlush": false,
            "values": ["2023-04-09T18:00:00Z", "2023-04-09T21:00:00Z", "2023-04-10T00:00:00Z", "2023-04-10T03:00:00Z", "2023-04-10T06:00:00Z", "2023-04-10T09:00:00Z", "2023-04-10T12:00:00Z", "2023-04-10T14:50:00Z"],
            "labelExpr": "utchours(datum.value) == 0 ? '10일' : utchours(datum.value) == 14 ? '오후 3:05' : (utchours(datum.value) < 12 ? '오전 ' : '오후 ') + (utchours(datum.value) == 12 ? 12 : utchours(datum.value) % 12) + ':00'"
          }
        }
      },
      "layer": [
        {
          "data": {"name": "volume"},
          "mark": {"type": "bar", "size": 2, "color": "#cfd6e4"},
          "encoding": {
            "y": {"field": "vol", "type": "quantitative", "axis": null, "scale": {"domain": [0, 120], "nice": false}}
          }
        },
        {
          "data": {"name": "price"},
          "transform": [{"filter": "datum.dir == 'up'"}],
          "mark": {
            "type": "area",
            "color": {
              "x1": 0, "y1": 0, "x2": 0, "y2": 1, "gradient": "linear",
              "stops": [
                {"offset": 0, "color": "rgba(22,199,132,0.28)"},
                {"offset": 1, "color": "rgba(22,199,132,0.01)"}
              ]
            }
          },
          "encoding": {
            "y": {"field": "price", "type": "quantitative",
              "scale": {"domain": [27652, 28587], "nice": false, "zero": false},
              "axis": {
                "orient": "right", "grid": true, "gridColor": "#f3f5f8", "ticks": false, "domainColor": "#eff2f5",
                "values": [27700, 27800, 27900, 28000, 28100, 28200, 28300, 28400, 28500],
                "labelExpr": "datum.value == 28300 ? '' : format(datum.value / 1000, '.2f') + 'K'",
                "labelFontSize": 11, "labelFontWeight": 500, "labelColor": "#6b7689", "labelPadding": 8,
                "title": "USD", "titleFontSize": 11, "titleFontWeight": 700, "titleColor": "#616e85",
                "titleAngle": 0, "titleX": 25, "titleY": 345, "titleAlign": "center", "titleBaseline": "middle"
              }},
            "y2": {"datum": 27882}
          }
        },
        {
          "data": {"name": "baseline", "format": {"parse": {"t": "date", "t2": "date"}}},
          "mark": {"type": "rule", "color": "#a6b0c3", "strokeWidth": 1, "strokeDash": [1, 4]},
          "encoding": {
            "x2": {"field": "t2"},
            "y": {"field": "price", "type": "quantitative", "scale": {"domain": [27652, 28587], "nice": false, "zero": false}, "axis": null}
          }
        },
        {
          "data": {"name": "price"},
          "mark": {"type": "line", "strokeWidth": 2, "strokeJoin": "round"},
          "encoding": {
            "y": {"field": "price", "type": "quantitative", "scale": {"domain": [27652, 28587], "nice": false, "zero": false}, "axis": null},
            "detail": {"field": "seg"},
            "color": {"field": "dir", "type": "nominal", "legend": null,
              "scale": {"domain": ["up", "down"], "range": ["#16c784", "#ea3943"]}}
          }
        },
        {
          "data": {"name": "last"},
          "mark": {"type": "point", "filled": true, "opacity": 1, "size": 55, "color": "#16c784"},
          "encoding": {
            "y": {"field": "price", "type": "quantitative", "scale": {"domain": [27652, 28587], "nice": false, "zero": false}, "axis": null}
          }
        },
        {
          "data": {"name": "baseline"},
          "mark": {"type": "text", "align": "center", "baseline": "middle", "fontSize": 10.5, "fontWeight": 500, "color": "#58667e"},
          "encoding": {
            "x": {"field": "labelAt", "type": "temporal", "scale": {"type": "utc", "nice": false, "padding": 0, "domain": ["2023-04-09T15:59:00Z", "2023-04-10T15:49:24Z"]}},
            "y": {"field": "price", "type": "quantitative", "scale": {"domain": [27652, 28587], "nice": false, "zero": false}, "axis": null},
            "text": {"field": "label"}
          }
        },
        {
          "data": {"name": "badge", "format": {"parse": {"t": "date", "t2": "date"}}},
          "mark": {"type": "rect", "color": "#16c784"},
          "encoding": {
            "x2": {"field": "t2"},
            "y": {"field": "hi", "type": "quantitative", "scale": {"domain": [27652, 28587], "nice": false, "zero": false}, "axis": null},
            "y2": {"field": "lo"}
          }
        },
        {
          "data": {"name": "badge"},
          "mark": {"type": "text", "align": "left", "baseline": "middle", "fontSize": 11, "fontWeight": 600, "color": "#ffffff"},
          "encoding": {
            "x": {"field": "labelAt", "type": "temporal", "scale": {"type": "utc", "nice": false, "padding": 0, "domain": ["2023-04-09T15:59:00Z", "2023-04-10T15:49:24Z"]}},
            "y": {"field": "mid", "type": "quantitative", "scale": {"domain": [27652, 28587], "nice": false, "zero": false}, "axis": null},
            "text": {"field": "label"}
          }
        },
        {
          "data": {"name": "watermark"},
          "mark": {"type": "point", "filled": false, "opacity": 1, "size": 400, "strokeWidth": 1.6, "color": "#d5d9e2",
            "shape": "M-1,0A1,1 0 1,1 1,0A1,1 0 1,1 -1,0ZM-.6,.35L-.3,-.3L0,.25L.3,-.3L.55,.2"},
          "encoding": {
            "y": {"field": "price", "type": "quantitative", "scale": {"domain": [27652, 28587], "nice": false, "zero": false}, "axis": null}
          }
        },
        {
          "data": {"name": "watermark"},
          "mark": {"type": "text", "align": "left", "baseline": "middle", "fontSize": 13.5, "fontWeight": 500, "color": "#d5d9e2"},
          "encoding": {
            "x": {"field": "labelAt", "type": "temporal", "scale": {"type": "utc", "nice": false, "padding": 0, "domain": ["2023-04-09T15:59:00Z", "2023-04-10T15:49:24Z"]}},
            "y": {"field": "price", "type": "quantitative", "scale": {"domain": [27652, 28587], "nice": false, "zero": false}, "axis": null},
            "text": {"field": "label"}
          }
        }
      ]
    }
  ]
}
